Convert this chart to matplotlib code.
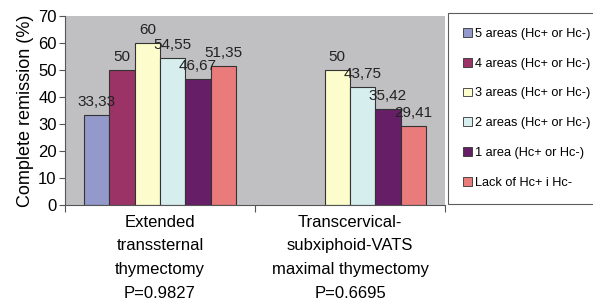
import numpy as np
import matplotlib.pyplot as plt
from matplotlib.patches import Patch

plt.rcParams['font.family'] = ['Liberation Sans', 'DejaVu Sans']

groups = ['Extended\ntranssternal\nthymectomy\nP=0.9827',
          'Transcervical-\nsubxiphoid-VATS\nmaximal thymectomy\nP=0.6695']
series = ['5 areas (Hc+ or Hc-)', '4 areas (Hc+ or Hc-)', '3 areas (Hc+ or Hc-)',
          '2 areas (Hc+ or Hc-)', '1 area (Hc+ or Hc-)', 'Lack of Hc+ i Hc-']
colors = ['#9499cb', '#9b3366', '#fdfccc', '#d6eeee', '#661f66', '#e97b7b']
# None = no bar in that group
values = [[33.33, None], [50, None], [60, 50], [54.55, 43.75], [46.67, 35.42], [51.35, 29.41]]
labels = [['33,33', ''], ['50', ''], ['60', '50'], ['54,55', '43,75'], ['46,67', '35,42'], ['51,35', '29,41']]

fig = plt.figure(figsize=(5.93, 3.0), dpi=100)
ax = fig.add_axes([65/593, 1-205/300, 380/593, 189/300])
ax.set_facecolor('#c0c0c2')

n = len(series)
w = 0.8 / n
x = np.arange(len(groups))
for i in range(n):
    for g in range(len(groups)):
        v = values[i][g]
        if v is None:
            continue
        xpos = x[g] - 0.4 + w * (i + 0.5)
        ax.bar(xpos, v, width=w, color=colors[i], edgecolor='#333333', linewidth=0.8)
        ax.text(xpos, v + 2.2, labels[i][g], ha='center', va='bottom', fontsize=11, color='#222222')

ax.set_xlim(-0.5, 1.5)
ax.set_ylim(0, 70)
ax.set_yticks(np.arange(0, 71, 10))
ax.tick_params(axis='y', labelsize=12, length=4, color='#555555', pad=2)
ax.set_xticks([-0.5, 0.5, 1.5])
ax.set_xticklabels([])
ax.tick_params(axis='x', which='major', length=5, color='#555555')
ax.set_xticks(x, minor=True)
ax.set_xticklabels(groups, minor=True, fontsize=12, linespacing=1.72)
ax.tick_params(axis='x', which='minor', length=0, pad=7)
ax.set_ylabel('Complete remission (%)', fontsize=13, labelpad=3)
for s in ['top', 'right']:
    ax.spines[s].set_visible(False)
for s in ['left', 'bottom']:
    ax.spines[s].set_color('#555555')

handles = [Patch(facecolor=c, edgecolor='#333333', linewidth=0.6) for c in colors]
leg = fig.legend(handles, series, loc='upper left', bbox_to_anchor=(448/593, 1-13/300),
                 fontsize=9.2, frameon=True, fancybox=False, edgecolor='#333333',
                 handlelength=0.7, handleheight=0.7, handletextpad=0.25,
                 labelspacing=1.4, borderpad=1.15, borderaxespad=0)
leg.get_frame().set_linewidth(0.8)

fig.savefig('out.png', dpi=100)
